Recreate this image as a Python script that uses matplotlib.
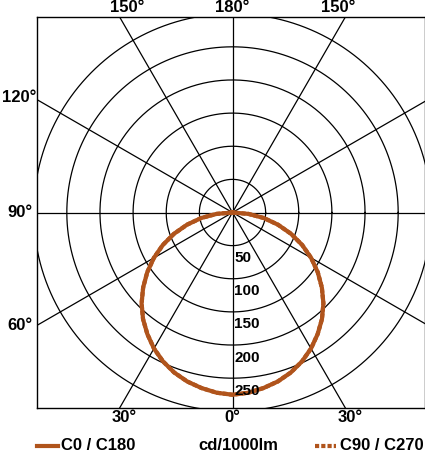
import numpy as np
import matplotlib
matplotlib.use("Agg")
import matplotlib.pyplot as plt

rings = [50, 100, 150, 200, 250, 300]
ring_labels = ["50", "100", "150", "200", "250"]
spoke_angles = [0, 30, 60, 90, 120, 150]
angles_c0 = np.arange(-90, 91, 5)
vals_c0 = [0, 24, 48, 71, 94, 116, 137, 157, 176, 194, 210, 224, 237, 248, 257, 264, 269, 273, 275,
           273, 269, 264, 257, 248, 237, 224, 210, 194, 176, 157, 137, 116, 94, 71, 48, 24, 0]
vals_c90 = vals_c0
color = "#b0541c"
plt.rcParams['font.family'] = ['Liberation Sans', 'DejaVu Sans']

W, H = 425, 454
fig = plt.figure(figsize=(W/100, H/100), dpi=100)
ax = fig.add_axes([37/W, 1-408/H, 388/W, 391/H])
L = 295
ax.set_xlim(-L, -L + 2*L*388/391)
ax.set_ylim(-L, L)
ax.set_xticks([]); ax.set_yticks([])
for s in ax.spines.values():
    s.set_linewidth(1.0)

t = np.linspace(0, 2*np.pi, 400)
for r in rings:
    ax.plot(r*np.cos(t), r*np.sin(t), color="black", lw=0.9)
for a in spoke_angles:
    rad = np.deg2rad(a)
    R = 1000
    ax.plot([-R*np.sin(rad), R*np.sin(rad)], [R*np.cos(rad), -R*np.cos(rad)], color="black", lw=0.9)
for r, lab in zip(rings, ring_labels):
    ax.text(3, -r - 19, lab, ha="left", va="center", fontsize=11, fontweight="bold", zorder=5)

th = np.deg2rad(angles_c0)
ax.plot(np.array(vals_c90)*np.sin(th), -np.array(vals_c90)*np.cos(th), color=color, lw=3, ls=(0, (1, 0.5)))
ax.plot(np.array(vals_c0)*np.sin(th), -np.array(vals_c0)*np.cos(th), color=color, lw=3)

fs = 12
def ft(x, y, s, ha="center"):
    fig.text(x/W, 1-y/H, s, ha=ha, va="center", fontsize=fs, fontweight="bold")
ft(127, 8, "150°"); ft(232, 8, "180°"); ft(338, 8, "150°")
ft(19, 98, "120°"); ft(20, 212, "90°"); ft(20, 325, "60°")
ft(124, 418, "30°"); ft(232, 418, "0°"); ft(350, 418, "30°")
ft(61, 446, "C0 / C180", ha="left"); ft(238, 446, "cd/1000lm")
ft(340, 446, "C90 / C270", ha="left")
fig.add_artist(plt.Line2D([37/W, 58/W], [1-446/H]*2, color=color, lw=3))
fig.add_artist(plt.Line2D([315/W, 336/W], [1-446/H]*2, color=color, lw=3, ls=(0, (1, 0.5))))
fig.savefig("out.png", dpi=100)
